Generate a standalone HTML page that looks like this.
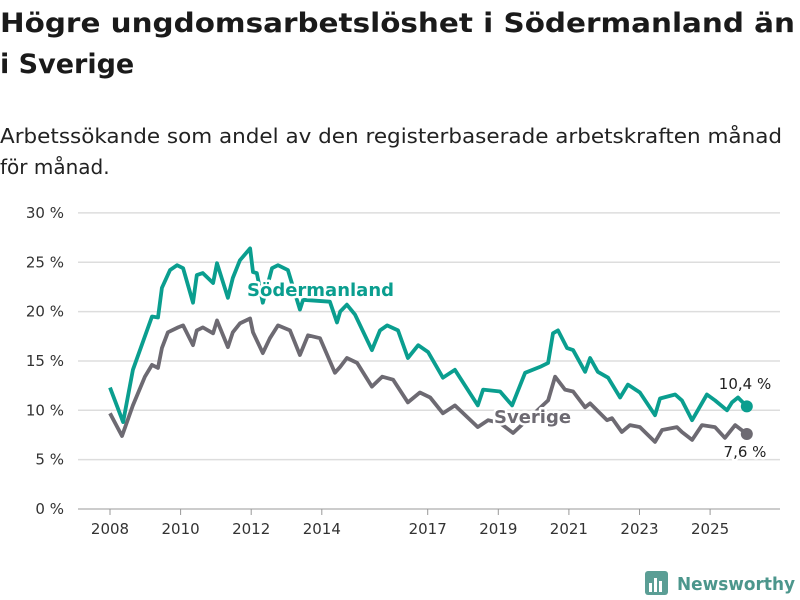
<!DOCTYPE html>
<html><head><meta charset="utf-8"><style>
html,body{margin:0;padding:0;background:#fff;}
svg{display:block;font-family:"DejaVu Sans","Liberation Sans",sans-serif;}
</style></head><body>
<svg id="chart" width="800" height="600" viewBox="0 0 800 600">
<text x="0" y="32" font-size="27" font-weight="bold" fill="#1a1a1a" textLength="795" lengthAdjust="spacingAndGlyphs">Högre ungdomsarbetslöshet i Södermanland än</text>
<text x="0" y="73" font-size="27" font-weight="bold" fill="#1a1a1a">i Sverige</text>
<text x="0" y="143" font-size="20" fill="#222" textLength="782" lengthAdjust="spacingAndGlyphs">Arbetssökande som andel av den registerbaserade arbetskraften månad</text>
<text x="0" y="174" font-size="20" fill="#222">för månad.</text>
<g id="grid"></g><g id="lines"></g><g id="labels"></g>
<g>
<rect x="645" y="571" width="23" height="24" rx="3" fill="#5b9e95"/>
<rect x="649" y="583" width="3" height="9" fill="#fff"/><rect x="654" y="578" width="3" height="14" fill="#fff"/><rect x="659" y="581" width="3" height="11" fill="#fff"/>
<text x="677" y="590" font-size="18" font-weight="bold" fill="#4c968c" textLength="118" lengthAdjust="spacingAndGlyphs">Newsworthy</text>
</g>
</svg>
<script>
const yTicks=[0,5,10,15,20,25,30];
const xTickYears=[2008,2010,2012,2014,2017,2019,2021,2023,2025];
const sodDates=[2008.00,2008.37,2008.65,2009.19,2009.36,2009.47,2009.70,2009.90,2010.07,2010.35,2010.46,2010.63,2010.92,2011.03,2011.34,2011.48,2011.68,2011.97,2012.05,2012.16,2012.33,2012.59,2012.76,2013.04,2013.38,2013.47,2014.23,2014.43,2014.52,2014.71,2014.94,2015.42,2015.65,2015.85,2016.16,2016.44,2016.73,2017.01,2017.43,2017.77,2018.42,2018.57,2019.05,2019.39,2019.76,2020.18,2020.41,2020.55,2020.69,2020.95,2021.12,2021.46,2021.60,2021.82,2022.11,2022.45,2022.67,2023.01,2023.44,2023.58,2024.01,2024.20,2024.49,2024.91,2025.14,2025.48,2025.62,2025.79,2026.04];
const sodValues=[12.3,8.8,14.1,19.5,19.4,22.4,24.2,24.7,24.4,20.9,23.7,23.9,22.9,24.9,21.4,23.4,25.2,26.4,24.0,23.9,20.9,24.4,24.7,24.2,20.2,21.2,21.0,18.9,20.0,20.7,19.7,16.1,18.1,18.6,18.1,15.3,16.6,15.9,13.3,14.1,10.5,12.1,11.9,10.5,13.8,14.4,14.8,17.8,18.1,16.3,16.1,13.9,15.3,13.9,13.3,11.3,12.6,11.8,9.5,11.2,11.6,11.0,9.0,11.6,11.0,10.0,10.8,11.3,10.4];
const sveDates=[2008.00,2008.34,2008.65,2008.99,2009.19,2009.36,2009.47,2009.64,2009.93,2010.07,2010.35,2010.46,2010.63,2010.92,2011.03,2011.34,2011.48,2011.68,2011.97,2012.05,2012.33,2012.53,2012.76,2013.10,2013.38,2013.61,2013.95,2014.37,2014.52,2014.71,2015.00,2015.42,2015.71,2016.02,2016.44,2016.78,2017.07,2017.43,2017.77,2018.42,2018.71,2019.05,2019.42,2020.41,2020.61,2020.89,2021.12,2021.46,2021.60,2022.08,2022.22,2022.50,2022.73,2023.01,2023.44,2023.64,2024.06,2024.20,2024.49,2024.77,2025.14,2025.42,2025.71,2026.04];
const sveValues=[9.7,7.4,10.5,13.4,14.6,14.3,16.3,17.9,18.4,18.6,16.6,18.1,18.4,17.8,19.1,16.4,17.9,18.8,19.3,17.9,15.8,17.3,18.6,18.1,15.6,17.6,17.3,13.8,14.4,15.3,14.8,12.4,13.4,13.1,10.8,11.8,11.3,9.7,10.5,8.3,9.0,8.7,7.7,11.0,13.4,12.1,11.9,10.3,10.7,9.0,9.2,7.8,8.5,8.3,6.8,8.0,8.3,7.8,7.0,8.5,8.3,7.2,8.5,7.6];
const NS='http://www.w3.org/2000/svg';
function X(yr){return 110+(yr-2008)*35.3;}
function Y(v){return 509-v*9.87;}
function mk(tag,attrs,parent){const e=document.createElementNS(NS,tag);for(const k in attrs)e.setAttribute(k,attrs[k]);parent.appendChild(e);return e;}
const grid=document.getElementById('grid'),lines=document.getElementById('lines'),labels=document.getElementById('labels');
yTicks.forEach(t=>{
 const l=mk('line',{x1:78,x2:780,y1:Y(t),y2:Y(t),stroke:t===0?'#bbb':'#ddd','stroke-width':1.5},grid);
 
 
 const tx=mk('text',{x:64,y:Y(t)+5,'text-anchor':'end','font-size':15,fill:'#333'},grid);
 tx.textContent=t+' %';
 
 
});
xTickYears.forEach(yr=>{
 const l=mk('line',{x1:X(yr),x2:X(yr),y1:509,y2:515,stroke:'#999','stroke-width':1},grid);
 
 
 const tx=mk('text',{x:X(yr),y:534,'text-anchor':'middle','font-size':15,fill:'#333'},grid);
 tx.textContent=yr;
 
 
});
function drawLine(dates,vals,color,name){
 const d=dates.map((t,i)=>(i?'L':'M')+X(t).toFixed(1)+','+Y(vals[i]).toFixed(1)).join(' ');
 const p=mk('path',{d:d,fill:'none',stroke:color,'stroke-width':3.8,'stroke-linejoin':'round'},lines);
 
 
 const n=dates.length-1;
 const c=mk('circle',{cx:X(dates[n]),cy:Y(vals[n]),r:6,fill:color},lines);
 
 
}
drawLine(sveDates,sveValues,'#6d6a72','sverige');
drawLine(sodDates,sodValues,'#0a9e8f','sodermanland');
function label(x,y,txt,color,size,weight,name,anchor){
 const t=mk('text',{x:x,y:y,'font-size':size,'font-weight':weight,fill:color,stroke:'#fff','stroke-width':5,'paint-order':'stroke','stroke-linejoin':'round','text-anchor':anchor||'start'},labels);
 t.textContent=txt;
 
 
}
label(247,296,'Södermanland','#0a9e8f',18,'bold','sodermanland-label');
label(494,423,'Sverige','#6d6a72',18,'bold','sverige-label');
label(745,389,'10,4 %','#222',15,'normal','sodermanland-value-label','middle');
label(745,457,'7,6 %','#222',15,'normal','sverige-value-label','middle');
</script>
</body></html>
